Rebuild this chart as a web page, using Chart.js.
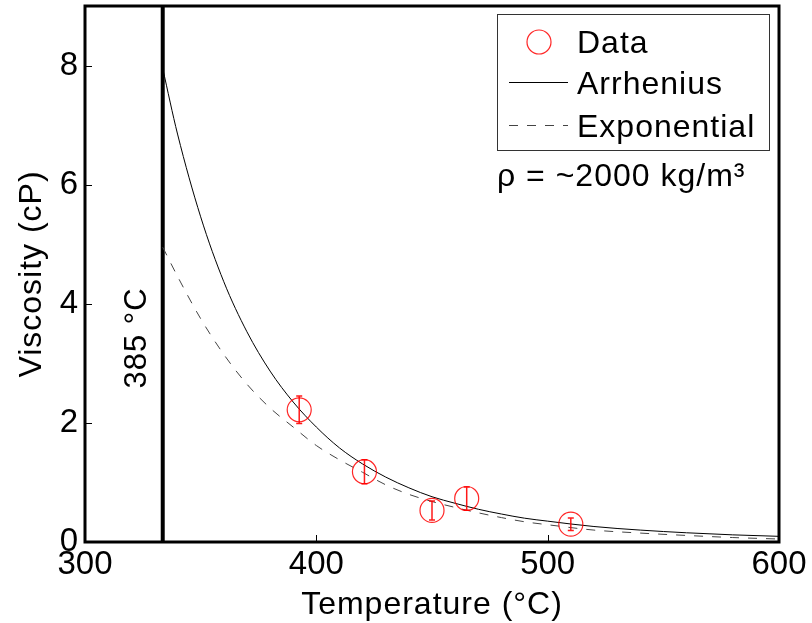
<!DOCTYPE html>
<html><head><meta charset="utf-8">
<script src="https://cdn.jsdelivr.net/npm/chart.js@4.4.1/dist/chart.umd.min.js"></script>
<style>html,body{margin:0;padding:0;background:#fff}#wrap{width:812px;height:623px}</style>
</head><body><div id="wrap"><canvas id="c" width="812" height="623"></canvas></div>
<script>
const xTicks = [300, 400, 500, 600];
const yTicks = [0, 2, 4, 6, 8];
const dataT = [392.6, 420.8, 450, 465, 510];
const dataV = [2.22, 1.18, 0.53, 0.73, 0.30];
const dataErr = [0.23, 0.20, 0.16, 0.195, 0.105];
const fitT = [333.6, 340, 350, 360, 370, 380, 390, 400, 410, 420, 430, 440, 450, 460, 470, 480, 490, 500, 520, 540, 560, 580, 600];
const arrhenius = [7.95, 6.85, 5.46, 4.37, 3.53, 2.87, 2.35, 1.93, 1.58, 1.31, 1.09, 0.91, 0.76, 0.65, 0.55, 0.47, 0.40, 0.35, 0.26, 0.20, 0.155, 0.12, 0.095];
const exponential = [4.95, 4.46, 3.75, 3.15, 2.65, 2.25, 1.93, 1.62, 1.38, 1.17, 0.96, 0.80, 0.68, 0.58, 0.49, 0.41, 0.34, 0.29, 0.20, 0.15, 0.11, 0.075, 0.05];
const limitT = 333.6;
const limitRange = [0, 9];
const FONT = "'Liberation Sans', Arial, Helvetica, sans-serif";

const pts = (xs, ys) => xs.map((x, i) => ({x: x, y: ys[i]}));

const decor = {
  id: 'decor',
  afterDatasetsDraw(chart) {
    const ctx = chart.ctx, a = chart.chartArea;
    const xs = chart.scales.x, ys = chart.scales.y;
    ctx.save();
    // error bars
    ctx.strokeStyle = 'rgba(255,0,0,0.9)';
    ctx.lineWidth = 1.5;
    dataT.forEach((t, i) => {
      const px = xs.getPixelForValue(t);
      const top = ys.getPixelForValue(dataV[i] + dataErr[i]);
      const bot = ys.getPixelForValue(dataV[i] - dataErr[i]);
      ctx.beginPath();
      ctx.moveTo(px, top); ctx.lineTo(px, bot);
      ctx.moveTo(px - 3, top); ctx.lineTo(px + 3, top);
      ctx.moveTo(px - 3, bot); ctx.lineTo(px + 3, bot);
      ctx.stroke();
    });
    // box
    ctx.strokeStyle = '#000';
    ctx.lineWidth = 3;
    ctx.strokeRect(a.left, a.top, a.right - a.left, a.bottom - a.top);
    // inward ticks
    ctx.lineWidth = 1;
    ctx.beginPath();
    xTicks.forEach(v => {
      const px = Math.round(xs.getPixelForValue(v)) + 0.5;
      ctx.moveTo(px, a.bottom); ctx.lineTo(px, a.bottom - 7);
    });
    yTicks.forEach(v => {
      const py = Math.round(ys.getPixelForValue(v)) + 0.5;
      ctx.moveTo(a.left, py); ctx.lineTo(a.left + 7, py);
    });
    ctx.stroke();
    // axis titles
    ctx.fillStyle = '#000';
    ctx.font = '32px ' + FONT;
    ctx.letterSpacing = '1px';
    ctx.textAlign = 'center';
    ctx.textBaseline = 'alphabetic';
    ctx.fillText('Temperature (°C)', (a.left + a.right) / 2, 614);
    ctx.save();
    ctx.translate(41, (a.top + a.bottom) / 2);
    ctx.rotate(-Math.PI / 2);
    ctx.fillText('Viscosity (cP)', 0, 0);
    ctx.restore();
    // limit label
    ctx.save();
    ctx.translate(146, 338);
    ctx.rotate(-Math.PI / 2);
    ctx.font = '31px ' + FONT;
    ctx.fillText('385 °C', 0, 0);
    ctx.restore();
    // legend
    ctx.lineWidth = 1;
    ctx.strokeStyle = '#333';
    ctx.strokeRect(497.5, 14.5, 272, 136);
    ctx.strokeStyle = 'rgba(255,0,0,0.85)';
    ctx.lineWidth = 1.2;
    ctx.beginPath(); ctx.arc(539, 42, 12, 0, Math.PI * 2); ctx.stroke();
    ctx.strokeStyle = '#000'; ctx.lineWidth = 1;
    ctx.beginPath(); ctx.moveTo(509, 82.5); ctx.lineTo(568, 82.5); ctx.stroke();
    ctx.strokeStyle = '#444';
    ctx.setLineDash([9, 9]);
    ctx.beginPath(); ctx.moveTo(509, 125.5); ctx.lineTo(568, 125.5); ctx.stroke();
    ctx.setLineDash([]);
    ctx.textAlign = 'left';
    ctx.font = '32px ' + FONT;
    ctx.fillText('Data', 577, 53);
    ctx.fillText('Arrhenius', 577, 94);
    ctx.fillText('Exponential', 577, 137);
    ctx.fillText('ρ = ~2000 kg/m³', 497, 186);
    ctx.restore();
  }
};

new Chart(document.getElementById('c'), {
  type: 'scatter',
  data: {
    datasets: [
      { label: 'Data', data: pts(dataT, dataV), pointRadius: 12, pointHoverRadius: 12, pointStyle: 'circle',
        borderColor: 'rgba(255,0,0,0.85)', backgroundColor: 'rgba(0,0,0,0)', borderWidth: 1.2, showLine: false },
      { label: 'Arrhenius', data: pts(fitT, arrhenius), showLine: true, pointRadius: 0, borderColor: '#000',
        borderWidth: 1, cubicInterpolationMode: 'monotone' },
      { label: 'Exponential', data: pts(fitT, exponential), showLine: true, pointRadius: 0, borderColor: '#444',
        borderWidth: 1, borderDash: [9, 9], cubicInterpolationMode: 'monotone' },
      { label: 'limit', data: pts([limitT, limitT], limitRange), showLine: true, pointRadius: 0,
        borderColor: '#000', borderWidth: 4 }
    ]
  },
  options: {
    responsive: false,
    animation: false,
    events: [],
    layout: { autoPadding: false, padding: { left: 0, right: 33, top: 6, bottom: 0 } },
    plugins: { legend: { display: false }, tooltip: { enabled: false } },
    scales: {
      x: {
        type: 'linear', min: 300, max: 600,
        afterBuildTicks: s => { s.ticks = xTicks.map(v => ({value: v})); },
        afterFit: s => { s.height = 81; s.paddingLeft = 0; s.paddingRight = 0; },
        grid: { display: false, drawTicks: false },
        border: { display: false },
        ticks: { color: '#000', font: { family: FONT, size: 33 }, padding: 3, maxRotation: 0, autoSkip: false }
      },
      y: {
        type: 'linear', min: 0, max: 9,
        afterBuildTicks: s => { s.ticks = yTicks.map(v => ({value: v})); },
        afterFit: s => { s.width = 85; s.paddingTop = 0; s.paddingBottom = 0; },
        grid: { display: false, drawTicks: false },
        border: { display: false },
        ticks: { color: '#000', font: { family: FONT, size: 33 }, padding: 7, autoSkip: false }
      }
    }
  },
  plugins: [decor]
});
</script>
</body></html>
